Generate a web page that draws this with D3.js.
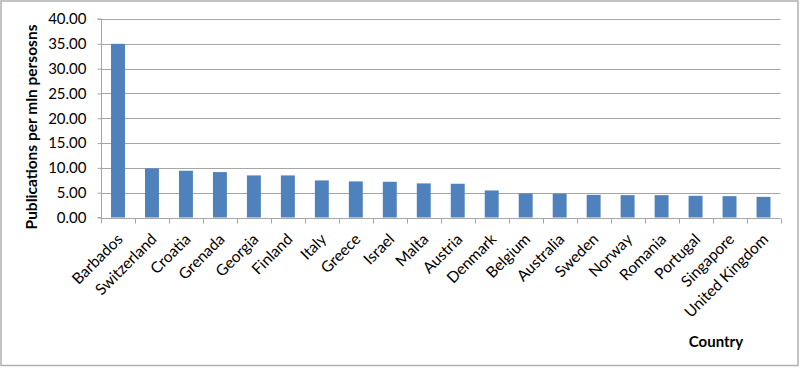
<!DOCTYPE html>
<html><head><meta charset="utf-8">
<script src="https://cdn.jsdelivr.net/npm/d3@7"></script>
<style>body{margin:0;background:#fff}svg{display:block}</style>
</head><body>
<svg id="c" width="800" height="369"></svg>
<script>
const countries = ["Barbados","Switzerland","Croatia","Grenada","Georgia","Finland","Italy","Greece","Israel","Malta","Austria","Denmark","Belgium","Australia","Sweden","Norway","Romania","Portugal","Singapore","United Kingdom"];
const values = [35.0,9.9,9.42,9.15,8.48,8.48,7.47,7.27,7.2,6.87,6.8,5.45,4.85,4.8,4.57,4.5,4.5,4.37,4.3,4.16];
const yTicks = [0,5,10,15,20,25,30,35,40];
const yTitle = "Publications per mln persosns";
const xTitle = "Country";

const svg = d3.select("#c");
const font = "Lato, 'Open Sans', sans-serif";
svg.append("rect").attr("x",1).attr("y",1).attr("width",797).attr("height",364.5)
  .attr("fill","#fff").attr("stroke","#b0b0b0").attr("stroke-width",1.5);

const L=101, R=780.5, T=19, B=217.5;
const x = d3.scaleBand().domain(countries).range([L,R]).paddingInner(0.59).paddingOuter(0.295);
const xb = d3.scaleBand().domain(countries).range([L,R]);
const y = d3.scaleLinear().domain([0,40]).range([B,T]);

// gridlines
svg.append("g").selectAll("line").data(yTicks.filter(d=>d>0)).join("line")
  .attr("x1",L).attr("x2",R).attr("y1",d=>Math.round(y(d))+0.5).attr("y2",d=>Math.round(y(d))+0.5)
  .attr("stroke","#a6a6a6").attr("stroke-width",1);

// bars
svg.append("g").selectAll("rect").data(values).join("rect")
  .attr("x",(d,i)=>x(countries[i])).attr("width",x.bandwidth())
  .attr("y",d=>y(d)).attr("height",d=>B-y(d)).attr("fill","#4f81bd");

// y axis
const ya = d3.axisLeft(y).tickValues(yTicks).tickFormat(d3.format(".2f")).tickSize(4).tickPadding(11);
const gy = svg.append("g").attr("transform",`translate(${L+0.5},0)`).call(ya);
gy.select(".domain").attr("stroke","#a6a6a6").attr("d",`M-4,${T}H0V${B}H-4`);
gy.selectAll(".tick line").attr("stroke","#a6a6a6");
gy.selectAll("text").attr("font-family",font).attr("font-size",15).attr("fill","#000");

// x axis
const gx = svg.append("g").attr("transform",`translate(0,${Math.round(B)+0.5})`);
gx.append("line").attr("x1",L).attr("x2",R).attr("stroke","#a6a6a6");
const bounds = countries.map(c=>xb(c)).concat([R]);
gx.selectAll("line.t").data(bounds).join("line").attr("class","t")
  .attr("x1",d=>Math.round(d)+0.5).attr("x2",d=>Math.round(d)+0.5).attr("y1",0).attr("y2",5)
  .attr("stroke","#a6a6a6");
gx.selectAll("text").data(countries).join("text")
  .attr("transform",d=>`translate(${xb(d)+xb.bandwidth()/2-2},14) rotate(-45)`)
  .attr("text-anchor","end").attr("dy","0.7em")
  .attr("font-family",font).attr("font-size",15.5).attr("fill","#000").text(d=>d);

// titles
svg.append("text").attr("transform",`translate(37,127) rotate(-90)`)
  .attr("text-anchor","middle").attr("font-family",font).attr("font-weight","bold")
  .attr("font-size",15.5).text(yTitle);
svg.append("text").attr("x",716).attr("y",347).attr("text-anchor","middle")
  .attr("font-family",font).attr("font-weight","bold").attr("font-size",15).text(xTitle);
</script>
</body></html>
